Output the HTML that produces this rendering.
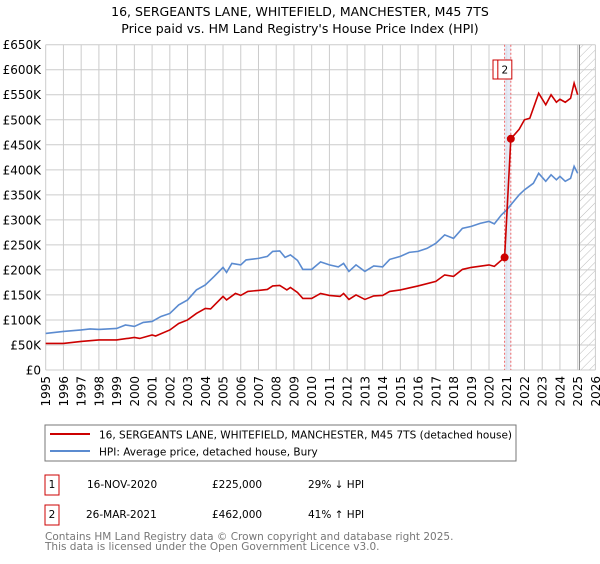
<!DOCTYPE html>
<html><head><meta charset="utf-8"><style>
body{margin:0;background:#fff;font-family:"DejaVu Sans","Liberation Sans",sans-serif;}
svg text{font-family:"DejaVu Sans","Liberation Sans",sans-serif;}
</style></head><body>
<svg id="c" width="600" height="560" xmlns="http://www.w3.org/2000/svg">
<text x="300" y="16" text-anchor="middle" font-size="12.5" fill="#000">16, SERGEANTS LANE, WHITEFIELD, MANCHESTER, M45 7TS</text>
<text x="300" y="33" text-anchor="middle" font-size="12.5" fill="#000">Price paid vs. HM Land Registry's House Price Index (HPI)</text>
<defs><pattern id="hatch" width="6" height="6" patternUnits="userSpaceOnUse" patternTransform="rotate(45)"><line x1="0" y1="0" x2="0" y2="6" stroke="#bbb" stroke-width="1"/></pattern></defs>
<g id="grid"></g><g id="axes"></g><g id="series"></g>
<g>
<rect x="45" y="425" width="471" height="36" fill="#fff" stroke="#777"/>
<line x1="50" y1="434" x2="90" y2="434" stroke="#cc0000" stroke-width="2"/>
<text x="99" y="438.5" font-size="10.5">16, SERGEANTS LANE, WHITEFIELD, MANCHESTER, M45 7TS (detached house)</text>
<line x1="50" y1="451" x2="90" y2="451" stroke="#5b8bd0" stroke-width="2"/>
<text x="99" y="455.5" font-size="10.5">HPI: Average price, detached house, Bury</text>
</g>
<g font-size="10.5">
<rect x="45" y="475" width="14" height="20" fill="none" stroke="#cc0000"/>
<text x="52" y="488" text-anchor="middle">1</text>
<text x="87" y="488">16-NOV-2020</text>
<text x="212" y="488">£225,000</text>
<text x="308" y="488">29% ↓ HPI</text>
<rect x="45" y="505" width="14" height="20" fill="none" stroke="#cc0000"/>
<text x="52" y="518" text-anchor="middle">2</text>
<text x="86" y="518">26-MAR-2021</text>
<text x="212" y="518">£462,000</text>
<text x="308" y="518">41% ↑ HPI</text>
</g>
<text x="45" y="540" font-size="10.5" fill="#777">Contains HM Land Registry data © Crown copyright and database right 2025.</text>
<text x="45" y="550" font-size="10.5" fill="#777">This data is licensed under the Open Government Licence v3.0.</text>
</svg>
<script>
const yTicks=[0,50,100,150,200,250,300,350,400,450,500,550,600,650];
const yLabels=["£0","£50K","£100K","£150K","£200K","£250K","£300K","£350K","£400K","£450K","£500K","£550K","£600K","£650K"];
const xYears=[1995,1996,1997,1998,1999,2000,2001,2002,2003,2004,2005,2006,2007,2008,2009,2010,2011,2012,2013,2014,2015,2016,2017,2018,2019,2020,2021,2022,2023,2024,2025,2026];
const hpiDates=[1995,1996,1997,1997.5,1998,1999,1999.5,2000,2000.5,2001,2001.5,2002,2002.5,2003,2003.5,2004,2004.5,2005,2005.2,2005.5,2006,2006.3,2007,2007.5,2007.8,2008.2,2008.5,2008.8,2009.2,2009.5,2010,2010.5,2011,2011.5,2011.8,2012.1,2012.5,2013,2013.5,2014,2014.4,2015,2015.5,2016,2016.5,2017,2017.5,2018,2018.5,2019,2019.5,2020,2020.3,2020.7,2021,2021.3,2021.7,2022,2022.5,2022.8,2023.2,2023.5,2023.8,2024,2024.3,2024.6,2024.8,2025.0];
const hpiValues=[73,77,80,82,81,83,90,87,95,97,107,113,130,140,160,170,187,205,195,213,210,220,223,227,237,238,225,230,219,201,201,216,210,206,213,197,210,197,208,206,221,227,235,237,243,253,270,263,283,287,293,297,292,310,320,333,350,360,373,393,377,390,380,387,377,383,407,393];
const priceDates=[1995,1996,1997,1998,1999,2000,2000.3,2001,2001.2,2002,2002.5,2003,2003.5,2004,2004.3,2005,2005.2,2005.7,2006,2006.4,2007,2007.5,2007.8,2008.2,2008.6,2008.8,2009.2,2009.5,2010,2010.5,2011,2011.6,2011.8,2012.1,2012.5,2013,2013.5,2014,2014.4,2015,2016,2017,2017.5,2018,2018.5,2019,2020,2020.3,2020.88,2021.23,2021.7,2022,2022.3,2022.8,2023.2,2023.5,2023.8,2024,2024.3,2024.6,2024.8,2025.0];
const priceValues=[53,53,57,60,60,65,63,70,68,80,93,100,113,123,122,147,140,153,149,157,159,161,168,169,160,165,155,143,143,153,149,147,153,141,150,141,148,149,157,160,168,177,190,187,201,205,210,207,225,462,481,500,503,553,530,550,535,541,535,543,573,550];
const saleDates=[2020.88,2021.23];
const saleValues=[225,462];
const saleLabels=["1","2"];

const NS="http://www.w3.org/2000/svg";
const X0=45.7,X1=595.4,Y0=370,Y1=44.7;
const xs=y=>X0+(y-1995)*(X1-X0)/31;
const ys=v=>Y0-(v/650)*(Y0-Y1);
function mk(tag,attrs,parent){const e=document.createElementNS(NS,tag);for(const k in attrs)e.setAttribute(k,attrs[k]);parent.appendChild(e);return e;}
const grid=document.getElementById('grid'),axes=document.getElementById('axes'),ser=document.getElementById('series');
const hz=mk('rect',{x:xs(2025.1),y:Y1,width:X1-xs(2025.1),height:Y0-Y1,fill:'url(#hatch)'},grid);


yTicks.forEach((t,i)=>{
 const l=mk('line',{x1:X0,x2:X1,y1:ys(t),y2:ys(t),stroke:'#ccc','stroke-width':1},grid);
 
 
 const tx=mk('text',{x:41,y:ys(t)+4.5,'text-anchor':'end','font-size':'12'},axes);
 tx.textContent=yLabels[i];
 
 
});
xYears.forEach(yr=>{
 const l=mk('line',{x1:xs(yr),x2:xs(yr),y1:Y1,y2:Y0,stroke:'#ccc','stroke-width':1},grid);
 
 
 const tx=mk('text',{x:0,y:0,'text-anchor':'end','font-size':'12',transform:`translate(${xs(yr)+4.5},376) rotate(-90)`},axes);
 tx.textContent=yr;
 
 
});
const nl=mk('line',{x1:xs(2025.1),x2:xs(2025.1),y1:Y1,y2:Y0,stroke:'#888','stroke-width':1},grid);


const band=mk('rect',{x:xs(saleDates[0]),y:Y1,width:xs(saleDates[1])-xs(saleDates[0]),height:Y0-Y1,fill:'#dde6f5',opacity:0.7},grid);


saleDates.forEach((d,i)=>{
 const l=mk('line',{x1:xs(d),x2:xs(d),y1:Y1,y2:Y0,stroke:'#e66','stroke-width':1,'stroke-dasharray':'2,2'},grid);
 
 
});
const hp=mk('polyline',{points:hpiDates.map((d,i)=>xs(d)+','+ys(hpiValues[i])).join(' '),fill:'none',stroke:'#5b8bd0','stroke-width':1.6},ser);


const pp=mk('polyline',{points:priceDates.map((d,i)=>xs(d)+','+ys(priceValues[i])).join(' '),fill:'none',stroke:'#cc0000','stroke-width':1.6},ser);


saleDates.forEach((d,i)=>{
 const c=mk('circle',{cx:xs(d),cy:ys(saleValues[i]),r:4,fill:'#cc0000'},ser);
 
 
 const bx=xs(d)-(i===0?11.6:13);
 const r=mk('rect',{x:bx,y:60,width:14,height:19,fill:'#fff',stroke:'#cc0000'},ser);
 
 
 const t=mk('text',{x:bx+7,y:73.5,'text-anchor':'middle','font-size':'10.5'},ser);
 t.textContent=saleLabels[i];
 
 
});
</script>
</body></html>
